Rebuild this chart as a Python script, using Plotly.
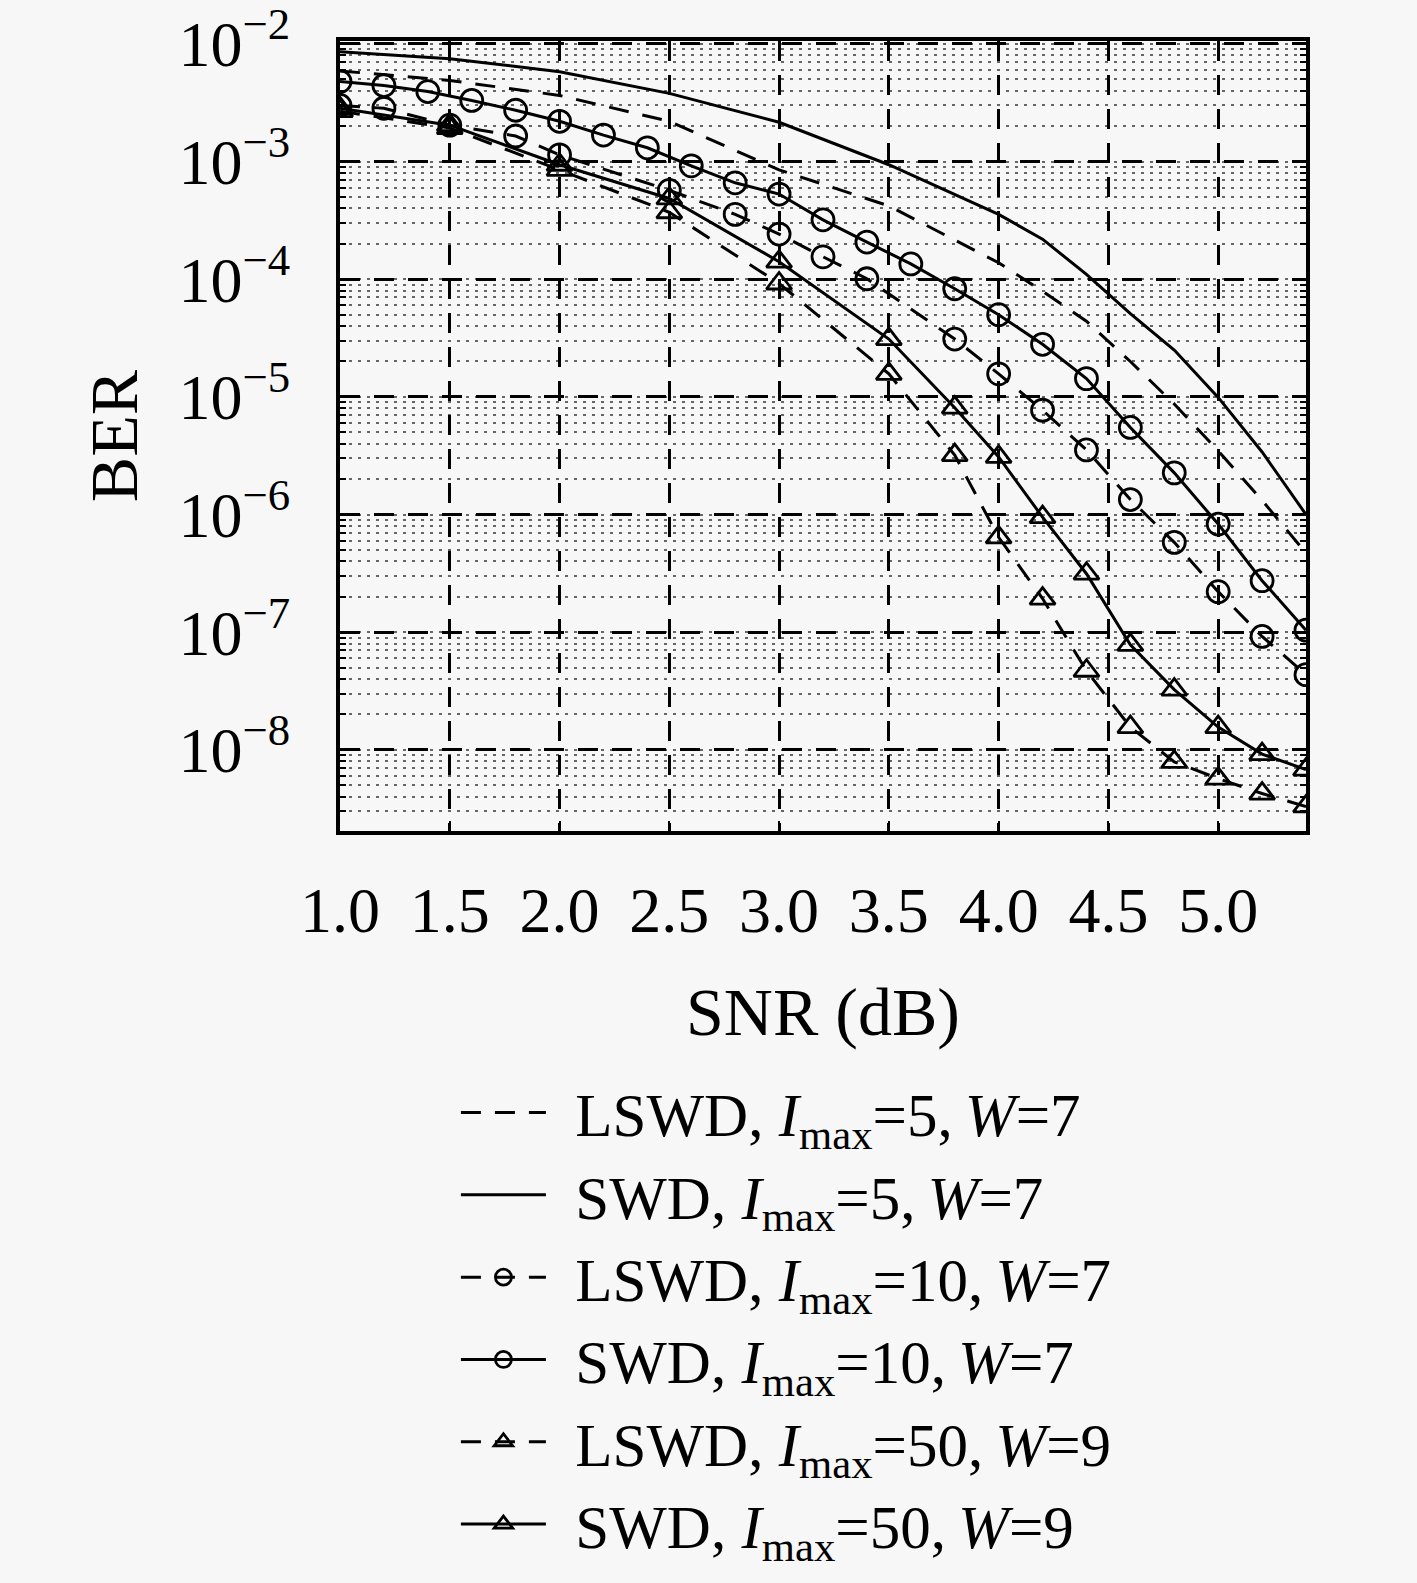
import plotly.graph_objects as go

# SNR grids (dB)
snr_swd10 = [1.0, 1.2, 1.4, 1.6, 1.8, 2.0, 2.2, 2.4, 2.6, 2.8, 3.0, 3.2, 3.4, 3.6, 3.8,
             4.0, 4.2, 4.4, 4.6, 4.8, 5.0, 5.2, 5.4]
snr_lswd10 = [1.0, 1.2, 1.5, 1.8, 2.0, 2.5, 2.8, 3.0, 3.2, 3.4, 3.8, 4.0, 4.2, 4.4, 4.6,
              4.8, 5.0, 5.2, 5.4]
snr_imax50 = [1.0, 1.5, 2.0, 2.5, 3.0, 3.5, 3.8, 4.0, 4.2, 4.4, 4.6, 4.8, 5.0, 5.2, 5.4]
snr_swd5 = [1.0, 1.5, 2.0, 2.5, 3.0, 3.5, 4.0, 4.2, 4.4, 4.6, 4.8, 5.0, 5.2, 5.4]
snr_lswd5 = [1.0, 1.5, 2.0, 2.5, 3.0, 3.5, 4.0, 4.2, 4.4, 4.6, 4.8, 5.0, 5.2, 5.4]

# BER values
ber_lswd5 = [5.9e-3, 4.9e-3, 3.65e-3, 2.2e-3, 8.5e-4, 4.2e-4, 1.38e-4, 7.9e-5, 4.4e-5,
             2.0e-5, 8.7e-6, 3.47e-6, 1.32e-6, 4.7e-7]
ber_swd5 = [8.6e-3, 7.5e-3, 5.8e-3, 3.8e-3, 2.16e-3, 9.4e-4, 3.56e-4, 2.19e-4, 1.10e-4,
            5.1e-5, 2.5e-5, 9.9e-6, 3.4e-6, 1.0e-6]
ber_lswd10 = [3.0e-3, 2.84e-3, 2.04e-3, 1.65e-3, 1.14e-3, 5.7e-4, 3.56e-4, 2.42e-4, 1.55e-4,
              1.01e-4, 3.1e-5, 1.57e-5, 7.7e-6, 3.54e-6, 1.34e-6, 5.8e-7, 2.21e-7, 9.2e-8,
              4.35e-8]
ber_swd10 = [4.79e-3, 4.43e-3, 3.94e-3, 3.31e-3, 2.73e-3, 2.20e-3, 1.68e-3, 1.31e-3, 9.2e-4,
             6.6e-4, 5.3e-4, 3.2e-4, 2.07e-4, 1.35e-4, 8.3e-5, 5.0e-5, 2.8e-5, 1.43e-5,
             5.5e-6, 2.26e-6, 8.3e-7, 2.74e-7, 1.04e-7]
ber_lswd50 = [2.68e-3, 1.93e-3, 8.5e-4, 3.71e-4, 9.2e-5, 1.57e-5, 3.2e-6, 6.4e-7, 1.93e-7,
              4.7e-8, 1.56e-8, 7.9e-9, 5.7e-9, 4.25e-9, 3.3e-9]
ber_swd50 = [2.84e-3, 2.04e-3, 9.4e-4, 4.86e-4, 1.41e-4, 3.1e-5, 8.1e-6, 3.09e-6, 9.5e-7,
             3.14e-7, 7.8e-8, 3.25e-8, 1.56e-8, 9.2e-9, 6.8e-9]

x_ticks = [1.0, 1.5, 2.0, 2.5, 3.0, 3.5, 4.0, 4.5, 5.0]
y_exponents = [-2, -3, -4, -5, -6, -7, -8]

FONT = "Liberation Serif"
DASH = "20px,14px"
BG = "#f7f7f7"


def label(kind, imax, w):
    return f"\u2009\u2009{kind}, <i>I</i><sub>max</sub>={imax},\u2009<i>W</i>={w}"


series = [
    (label("LSWD", 5, 7), snr_lswd5, ber_lswd5, DASH, None),
    (label("SWD", 5, 7), snr_swd5, ber_swd5, "solid", None),
    (label("LSWD", 10, 7), snr_lswd10, ber_lswd10, DASH, "circle-open"),
    (label("SWD", 10, 7), snr_swd10, ber_swd10, "solid", "circle-open"),
    (label("LSWD", 50, 9), snr_imax50, ber_lswd50, DASH, "triangle-up-open"),
    (label("SWD", 50, 9), snr_imax50, ber_swd50, "solid", "triangle-up-open"),
]

fig = go.Figure()
for name, xs, ys, dash, symbol in series:
    fig.add_trace(go.Scatter(
        x=xs, y=ys, name=name,
        mode="lines+markers" if symbol else "lines",
        line=dict(color="black", width=3, dash=dash),
        marker=dict(symbol=symbol or "circle", size=22, color="black",
                    line=dict(color="black", width=2.8)),
    ))

fig.update_xaxes(
    range=[1.0, 5.4],
    tickvals=x_ticks,
    ticktext=[f"{v:.1f}" for v in x_ticks],
    ticks="inside", ticklen=10, tickwidth=2, tickcolor="black",
    ticklabelstandoff=20,
    showline=True, linewidth=4, linecolor="black", mirror="ticks",
    showgrid=True, gridcolor="black", gridwidth=3, griddash=DASH,
    zeroline=False,
    tickfont=dict(family=FONT, size=64, color="black"),
    title=dict(text="SNR (dB)", font=dict(family=FONT, size=68, color="black"), standoff=44),
    automargin=False,
)
fig.update_yaxes(
    type="log",
    range=[-8.69, -1.975],
    tickvals=[10.0 ** e for e in y_exponents],
    ticktext=[f"10<sup>\u2212{-e}</sup>" for e in y_exponents],
    ticks="inside", ticklen=10, tickwidth=2, tickcolor="black",
    ticklabelstandoff=33, ticklabeloverflow="allow",
    showline=True, linewidth=4, linecolor="black", mirror="ticks",
    showgrid=True, gridcolor="black", gridwidth=3, griddash=DASH,
    zeroline=False,
    minor=dict(dtick="D1", showgrid=True, gridcolor="#666666", gridwidth=1.6,
               griddash="3px,6px", ticks="inside", ticklen=6, tickcolor="black"),
    tickfont=dict(family=FONT, size=64, color="black"),
    title=dict(text="BER", font=dict(family=FONT, size=68, color="black"), standoff=20),
    automargin=False,
)

fig.update_layout(
    width=1417, height=1583,
    margin=dict(l=340, r=111, t=41, b=743),
    paper_bgcolor=BG, plot_bgcolor=BG,
    showlegend=True,
    legend=dict(
        x=0.12, y=-0.298, xanchor="left", yanchor="top",
        font=dict(family=FONT, size=61, color="black"),
        bgcolor="rgba(0,0,0,0)", itemwidth=85,
        itemsizing="trace",
    ),
)

fig.write_html("out.html", config={"displayModeBar": False},
               post_script="document.body.style.margin='0';")
